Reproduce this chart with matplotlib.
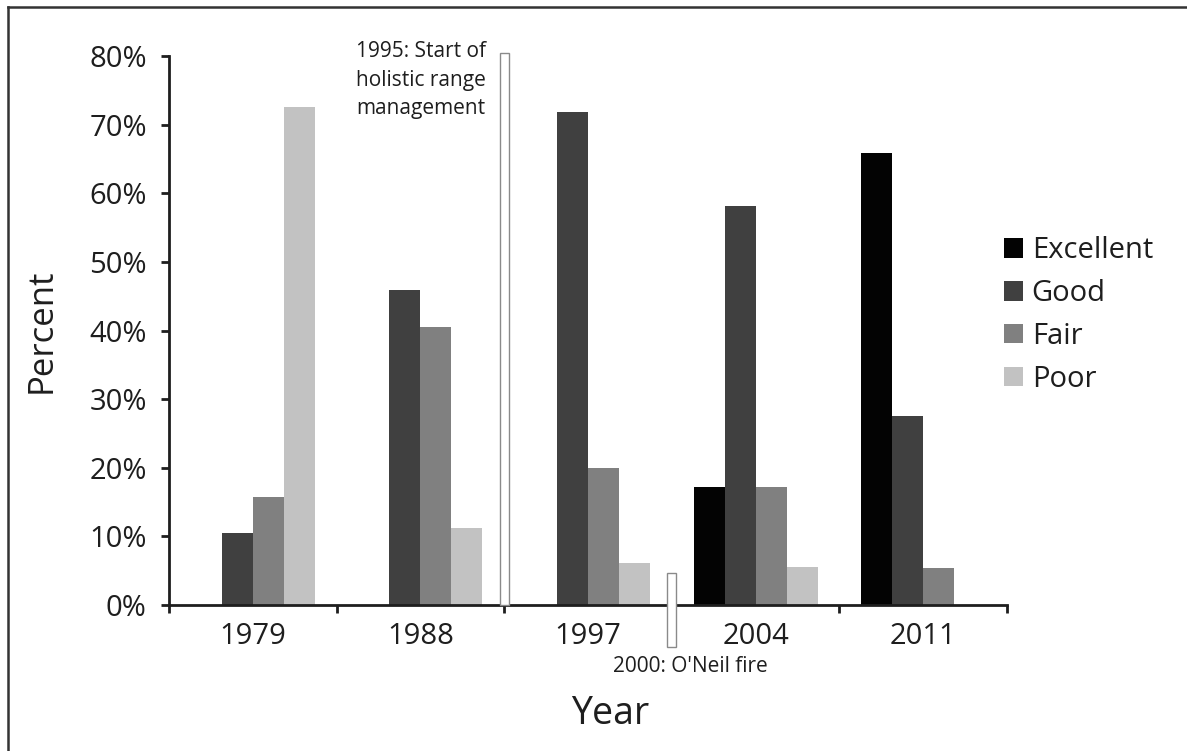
import numpy as np
import matplotlib
matplotlib.use("Agg")
import matplotlib.pyplot as plt
from matplotlib.lines import Line2D

plt.rcParams['font.family'] = ['Open Sans', 'DejaVu Sans']

# data
years = ['1979', '1988', '1997', '2004', '2011']
conditions = ['Excellent', 'Good', 'Fair', 'Poor']
excellent = [0, 0, 0, 17.2, 65.8]
good = [10.45, 45.9, 71.9, 58.2, 27.6]
fair = [15.8, 40.5, 20.0, 17.2, 5.4]
poor = [72.6, 11.2, 6.1, 5.5, 0]
colors = ['#030303', '#404040', '#808080', '#c2c2c2']

# event markers (position between year groups, bottom, top)
event_pos = [1.5, 2.5]
event_bottom = [0, -6.1]
event_top = [80.5, 4.7]
event_labels = ['1995: Start of\nholistic range\nmanagement', "2000: O'Neil fire"]

yticks = [0, 10, 20, 30, 40, 50, 60, 70, 80]

fig = plt.figure(figsize=(11.87, 7.51), dpi=100)
ax = fig.add_axes([169 / 1187, 1 - 605 / 751, 838 / 1187, 549 / 751])

x = np.arange(len(years))
w = 0.185
series = [excellent, good, fair, poor]
for i, (vals, name) in enumerate(zip(series, conditions)):
    ax.bar(x + (i - 1.5) * w, vals, w, color=colors[i], label=name,
           linewidth=0, zorder=2)

for pos, b, t in zip(event_pos, event_bottom, event_top):
    ax.bar(pos, t - b, 0.055, bottom=b, color='white', edgecolor='#8a8a8a',
           linewidth=1.0, zorder=3, clip_on=False)

text_col = '#1e1e1e'
ax.text(1.39, 82.2, event_labels[0], ha='right', va='top', fontsize=15,
        color=text_col, linespacing=1.48)
ax.text(2.61, -9.0, event_labels[1], ha='center', va='center', fontsize=15,
        color=text_col)

ax.set_xlim(-0.5, 4.5)
ax.set_ylim(0, 80)
ax.set_yticks(yticks)
ax.set_yticklabels([f'{v}%' for v in yticks])
ax.set_xticks(np.arange(-0.5, 5, 1.0))
ax.set_xticklabels([])
ax.set_xticks(x, minor=True)
ax.set_xticklabels(years, minor=True)
ax.tick_params(axis='x', which='major', direction='out', length=6, width=2,
               color=text_col)
ax.tick_params(axis='x', which='minor', length=0, pad=12, labelsize=21,
               labelcolor=text_col)
ax.tick_params(axis='y', direction='out', length=6, width=2, pad=10,
               labelsize=21, color=text_col, labelcolor=text_col)

for s in ['top', 'right']:
    ax.spines[s].set_visible(False)
for s in ['left', 'bottom']:
    ax.spines[s].set_linewidth(2)
    ax.spines[s].set_color(text_col)

ax.set_ylabel('Percent', fontsize=25, color=text_col)
ax.yaxis.set_label_coords(-0.132, 0.5)
ax.set_xlabel('Year', fontsize=27, color=text_col)
ax.xaxis.set_label_coords(0.526, -0.164)

ax.legend(loc='center left', bbox_to_anchor=(1004 / 1187, 1 - 315 / 751),
          bbox_transform=fig.transFigure, frameon=False, fontsize=21,
          handlelength=0.65, handleheight=0.65, handletextpad=0.3,
          labelspacing=0.47, borderaxespad=0, borderpad=0,
          labelcolor=text_col)

# partial frame around the figure (top and left edges)
fig.add_artist(Line2D([8 / 1187, 1], [1 - 7 / 751, 1 - 7 / 751],
                      transform=fig.transFigure, color='#333333', lw=1.8))
fig.add_artist(Line2D([8 / 1187, 8 / 1187], [0, 1 - 7 / 751],
                      transform=fig.transFigure, color='#333333', lw=1.8))

fig.savefig('out.png', dpi=100)
